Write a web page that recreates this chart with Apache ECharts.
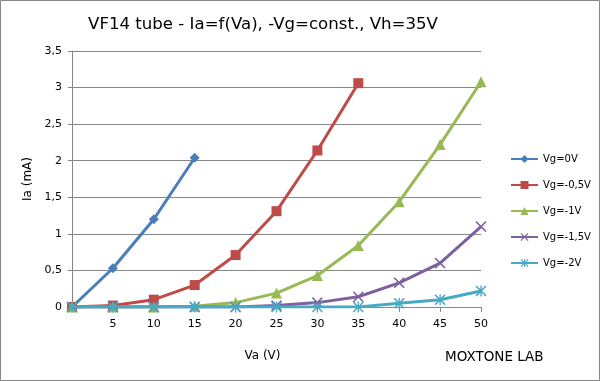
<!DOCTYPE html>
<html><head><meta charset="utf-8">
<script src="https://cdn.jsdelivr.net/npm/echarts@6/dist/echarts.min.js"></script>
<style>html,body{margin:0;padding:0;background:#fff}#c{width:600px;height:381px}</style>
</head><body><div id="c"></div>
<script>
var xValues = [0, 5, 10, 15, 20, 25, 30, 35, 40, 45, 50];
var seriesNames = ['Vg=0V', 'Vg=-0,5V', 'Vg=-1V', 'Vg=-1,5V', 'Vg=-2V'];
var vg0 = [0, 0.53, 1.2, 2.04];
var vg05 = [0, 0.02, 0.1, 0.3, 0.71, 1.31, 2.14, 3.06];
var vg1 = [0, 0, 0, 0.01, 0.06, 0.19, 0.43, 0.84, 1.44, 2.22, 3.08];
var vg15 = [0, 0, 0, 0, 0, 0.02, 0.06, 0.14, 0.33, 0.6, 1.1];
var vg2 = [0, 0, 0, 0, 0, 0, 0, 0, 0.05, 0.1, 0.22];
var yTicks = [0, 0.5, 1, 1.5, 2, 2.5, 3, 3.5];

var colors = ['#4A7EBB', '#BE4B48', '#98B954', '#7D60A0', '#46AAC5'];
var xPath = 'path://M1,0 L5,4 L9,0 L10,1 L6,5 L10,9 L9,10 L5,6 L1,10 L0,9 L4,5 L0,1 Z';
var starPath = 'path://M1,0 L5,4 L9,0 L10,1 L6,5 L10,9 L9,10 L5,6 L1,10 L0,9 L4,5 L0,1 Z M4.4,0 L5.6,0 L5.6,10 L4.4,10 Z';
var symbols = ['diamond', 'rect', 'triangle', xPath, starPath];
var sizes = [10, 10, 11, 11, 11];
var allData = [vg0, vg05, vg1, vg15, vg2];

function pairs(arr) { return arr.map(function (v, i) { return [xValues[i], v]; }); }

var chart = echarts.init(document.getElementById('c'));
var font = 'DejaVu Sans';
chart.setOption({
  animation: false,
  color: colors,
  title: {
    text: 'VF14 tube - Ia=f(Va), -Vg=const., Vh=35V',
    left: 258, top: 11, textAlign: 'center',
    textStyle: { fontFamily: font, fontSize: 16.6, fontWeight: 'normal', color: '#000' }
  },
  legend: {
    orient: 'vertical', left: 505, top: 149,
    itemWidth: 27, itemHeight: 10, itemGap: 16,
    textStyle: { fontFamily: font, fontSize: 10, color: '#000' },
    data: seriesNames
  },
  grid: { left: 72, right: 119, top: 51, bottom: 74, containLabel: false },
  xAxis: {
    type: 'value', min: 0, max: 50, interval: 5,
    name: 'Va (V)', nameLocation: 'middle', nameGap: 43,
    nameTextStyle: { fontFamily: font, fontSize: 12, color: '#000', padding: [0, 28, 0, 0] },
    axisLine: { lineStyle: { color: '#868686' } },
    axisTick: { show: true, length: 5, lineStyle: { color: '#868686' } },
    axisLabel: { fontFamily: font, fontSize: 11, color: '#000', margin: 12,
      formatter: function (v) { return v === 0 ? '' : String(v); } },
    splitLine: { show: false }
  },
  yAxis: {
    type: 'value', min: 0, max: 3.5, interval: 0.5,
    name: 'Ia (mA)', nameLocation: 'middle', nameGap: 33, nameRotate: 90,
    nameTextStyle: { fontFamily: font, fontSize: 12, color: '#000' },
    axisLine: { show: true, lineStyle: { color: '#868686' } },
    axisTick: { show: true, length: 4, lineStyle: { color: '#868686' } },
    axisLabel: { fontFamily: font, fontSize: 11, color: '#000', margin: 10,
      formatter: function (v) { return String(v).replace('.', ','); } },
    splitLine: { lineStyle: { color: '#868686' } }
  },
  graphic: [
    { type: 'rect', shape: { x: 0.5, y: 0.5, width: 599, height: 380 }, style: { fill: 'none', stroke: '#868686', lineWidth: 1 }, silent: true },
    { type: 'text', left: 445, top: 350, style: { text: 'MOXTONE LAB', font: '13.5px ' + font, fill: '#000' } }
  ],
  series: allData.map(function (d, i) {
    return {
      name: seriesNames[i], type: 'line', data: pairs(d),
      symbol: symbols[i], symbolSize: sizes[i], showAllSymbol: true,
      lineStyle: { width: 3, color: colors[i] },
      itemStyle: { color: colors[i] },
      z: 2 + i
    };
  })
});
</script></body></html>
